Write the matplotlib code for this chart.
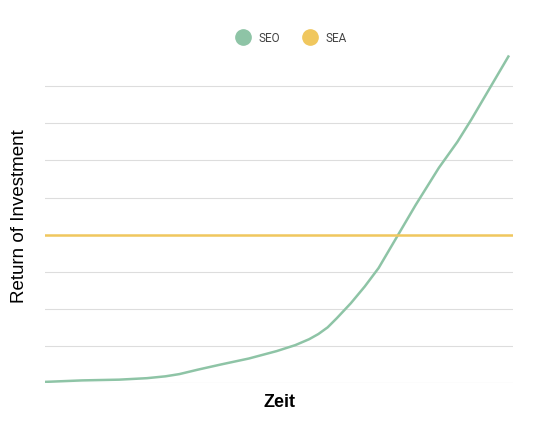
import matplotlib
matplotlib.use("Agg")
import matplotlib.pyplot as plt
from matplotlib.lines import Line2D

x = [0, 8, 16, 22, 26, 29, 33, 38, 44, 50, 54, 57, 59, 61, 63, 66, 69, 72, 76, 80, 85, 89, 92, 96, 100]
seo = [0.03, 0.07, 0.09, 0.13, 0.18, 0.24, 0.36, 0.5, 0.66, 0.86, 1.02, 1.18, 1.32, 1.5, 1.75, 2.15, 2.6, 3.1, 3.95, 4.8, 5.8, 6.5, 7.1, 7.95, 8.8]
sea = [4, 4]
green = "#8ec4a6"
yellow = "#f0c75e"

fig = plt.figure(figsize=(5.35, 4.26), dpi=100)
ax = fig.add_axes([45/535, 1-383/426, 468/535, (383-50)/426])
ax.plot(x, seo, color=green, lw=1.8)
ax.plot([0, 101], sea, color=yellow, lw=1.8)
ax.set_xlim(0, 101)
ax.set_ylim(0, (383-50)/37.1)
for g in range(1, 9):
    ax.axhline(g, color="#dddddd", lw=0.8, zorder=0)
ax.axhline(0, color="#cccccc", lw=0.8, zorder=0)
for s in ax.spines.values():
    s.set_visible(False)
ax.set_xticks([]); ax.set_yticks([])
ax.set_xlabel("Zeit", fontsize=13, fontweight="bold", labelpad=8, family="Liberation Sans")
ax.set_ylabel("Return of Investment", fontsize=13.5, labelpad=12, family="Liberation Sans")
handles = [Line2D([], [], marker="o", ls="", color=green, markersize=11, label="SEO"),
           Line2D([], [], marker="o", ls="", color=yellow, markersize=11, label="SEA")]
fig.legend(handles=handles, loc="center", bbox_to_anchor=(0.54, 1-38/426), ncol=2,
           frameon=False, prop={"family": "Roboto", "size": 8.5}, handletextpad=0.3,
           columnspacing=1.5, labelcolor="#444444")
fig.savefig("out.png", dpi=100)
